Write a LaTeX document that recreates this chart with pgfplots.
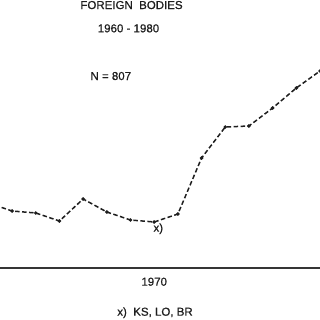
\documentclass[border=0pt]{standalone}
\usepackage{pgfplots}
\pgfplotsset{compat=1.18}
\usepackage{fontspec}
\setmainfont{Liberation Sans}
\newfontfamily\hv[FakeBold=0.8]{Liberation Sans}
\newcommand\f{\hv\fontsize{11.5bp}{13bp}\selectfont}
\definecolor{ink}{HTML}{1E1E1E}
\begin{document}
\begin{tikzpicture}[x=1bp,y=1bp]
\useasboundingbox (0,0) rectangle (320,320);
\begin{axis}[
  at={(0bp,52bp)}, anchor=south west,
  scale only axis, width=320bp, height=268bp,
  xmin=1963.49, xmax=1977, ymin=0, ymax=268,
  axis x line=bottom, axis y line=none,
  axis line style={-, line width=1.6bp, color=ink!90},
  xtick={1970}, xticklabels={1970}, major tick length=0pt,
  xticklabel style={font=\f, anchor=base, yshift=-17.7bp, text=ink},
  /pgf/number format/assume math mode=true,
  clip=true,
]
\addplot[ink, line width=1.5bp, dash pattern=on 4.5bp off 2.5bp,
  mark=*, mark size=0.9bp, mark options={solid}] coordinates {
  (1963,65) (1964,57) (1965,55) (1966,47) (1967,69) (1968,56)
  (1969,48) (1970,46) (1971,54) (1972,110) (1973,141) (1974,142)
  (1975,160) (1976,180) (1977,197)
};
\end{axis}
\node[font=\f, text=ink, anchor=base, inner sep=0] at (131.5,311) {FOREIGN\ \ BODIES};
\node[font=\f, text=ink, anchor=base, inner sep=0] at (128.5,287.7) {1960 - 1980};
\node[font=\f, text=ink, anchor=base, inner sep=0] at (110.8,240) {N = 807};
\node[font=\f, text=ink, anchor=base, inner sep=0] at (158.3,88.3) {x)};
\node[font=\f, text=ink, anchor=base, inner sep=0] at (155,4.3) {x)\ \ KS, LO, BR};
\end{tikzpicture}
\end{document}
